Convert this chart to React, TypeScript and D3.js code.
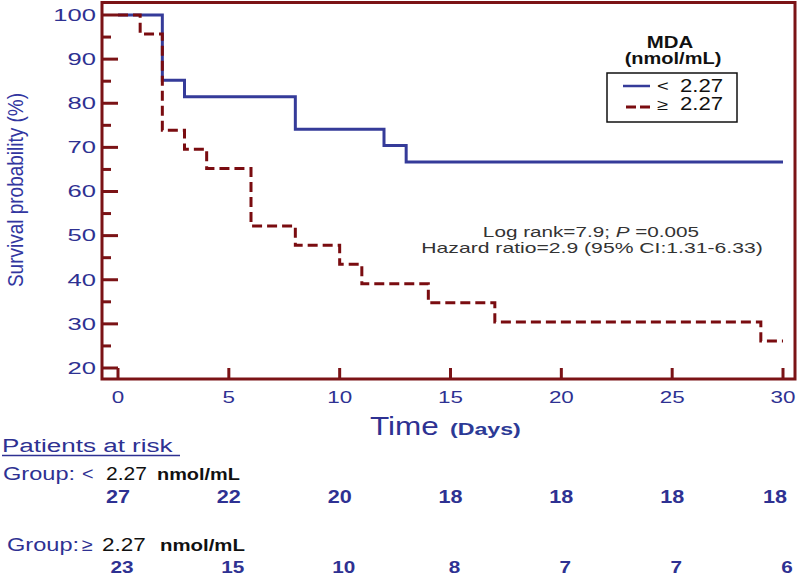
import React from "react";
import * as d3 from "d3";

// ---- data ----
const lowTimes = [0, 2, 3, 8, 12, 13, 30];
const lowSurv = [100, 85.2, 81.5, 74.1, 70.4, 66.7, 66.7];
const highTimes = [0, 1, 2, 3, 4, 6, 8, 10, 11, 14, 17, 29, 30];
const highSurv = [100, 95.7, 73.9, 69.6, 65.2, 52.2, 47.8, 43.5, 39.1, 34.8, 30.4, 26.1, 26.1];
const xTicks = [0, 5, 10, 15, 20, 25, 30];
const yMajor = [20, 30, 40, 50, 60, 70, 80, 90, 100];
const yMinor = [25, 35, 45, 55, 65, 75, 85, 95];
const riskTimes = [0, 5, 10, 15, 20, 25, 30];
const riskLow = [27, 22, 20, 18, 18, 18, 18];
const riskHigh = [23, 15, 10, 8, 7, 7, 6];
const legendLabels = ["2.27", "2.27"];

const FONT = "'Liberation Sans', Arial, sans-serif";
const BLUE = "#2e3192";
const CURVE_BLUE = "#353b99";
const RED = "#7a0c10";
const AXIS = "#7b1316";

function ST(props: any) {
  const { x, y, sx = 1, size, anchor = "start", fill = "#111", weight = "normal", children } = props;
  return (
    <text
      transform={`translate(${x},${y}) scale(${sx},1)`}
      fontSize={size}
      textAnchor={anchor}
      fill={fill}
      fontWeight={weight}
      fontFamily={FONT}
    >
      {children}
    </text>
  );
}

export default function App() {
  const x = d3.scaleLinear().domain([0, 30]).range([118, 783]);
  const y = d3.scaleLinear().domain([20, 100]).range([368, 15]);
  const line = d3
    .line<[number, number]>()
    .x((d) => x(d[0]))
    .y((d) => y(d[1]))
    .curve(d3.curveStepAfter);
  const lowPts: [number, number][] = lowTimes.map((t, i) => [t, lowSurv[i]]);
  const highPts: [number, number][] = highTimes.map((t, i) => [t, highSurv[i]]);

  const left = 102, right = 795, top = 2.5, bottom = 379;

  return (
    <svg width={800} height={576} style={{ position: "absolute", left: 0, top: 0, background: "#fff" }}>
      <rect x={0} y={0} width={800} height={576} fill="#fff" />
      {/* y ticks */}
      {yMajor.map((v) => (
        <line key={"ym" + v} x1={left} x2={left + 16} y1={y(v)} y2={y(v)} stroke={AXIS} strokeWidth={3} />
      ))}
      {yMinor.map((v) => (
        <line key={"yn" + v} x1={left} x2={left + 9} y1={y(v)} y2={y(v)} stroke={AXIS} strokeWidth={3} />
      ))}
      {xTicks.map((t) => (
        <line key={"xt" + t} x1={x(t)} x2={x(t)} y1={bottom} y2={t === 0 ? y(20) : bottom - 11} stroke={AXIS} strokeWidth={3} />
      ))}
      {/* frame */}
      <rect x={left} y={top} width={right - left} height={bottom - top} fill="none" stroke={AXIS} strokeWidth={3} />

      {/* curves */}
      <path d={line(lowPts) || ""} fill="none" stroke={CURVE_BLUE} strokeWidth={3} />
      <path d={line(highPts) || ""} fill="none" stroke={RED} strokeWidth={3} strokeDasharray="10,5" />

      {/* y tick labels */}
      {yMajor.map((v) => (
        <ST key={"yl" + v} x={96} y={y(v) + 5.8} sx={1.55} size={16.5} anchor="end" fill={BLUE}>
          {v}
        </ST>
      ))}
      {/* x tick labels */}
      {xTicks.map((t) => (
        <ST key={"xl" + t} x={x(t)} y={403} sx={1.4} size={16} anchor="middle" fill={BLUE}>
          {t}
        </ST>
      ))}

      {/* y axis title */}
      <text
        transform={`translate(23,190) scale(1.12,1) rotate(-90)`}
        fontSize={19}
        textAnchor="middle"
        fill="#3236a0"
        fontFamily={FONT}
      >
        Survival probability (%)
      </text>

      {/* x axis title */}
      <ST x={370} y={435} sx={1.26} size={25} fill={BLUE}>Time</ST>
      <ST x={450} y={435} sx={1.45} size={16} weight="bold" fill="#2c3a96">(Days)</ST>

      {/* legend */}
      <ST x={670} y={48} sx={1.2} size={17} anchor="middle" weight="bold">MDA</ST>
      <ST x={673} y={64} sx={1.25} size={16} anchor="middle" weight="bold">(nmol/mL)</ST>
      <rect x={607} y={73} width={130} height={49} fill="#fff" stroke="#111" strokeWidth={1.5} />
      <line x1={623} x2={650} y1={86} y2={86} stroke={CURVE_BLUE} strokeWidth={2.5} />
      <line x1={626} x2={650} y1={107} y2={107} stroke={RED} strokeWidth={3} strokeDasharray="10,4" />
      <ST x={657} y={91} sx={1.3} size={15.5}>&lt;</ST>
      <ST x={680} y={92} sx={1.23} size={18}>{legendLabels[0]}</ST>
      <ST x={657} y={110} sx={1.3} size={15.5}>≥</ST>
      <ST x={680} y={110} sx={1.23} size={18}>{legendLabels[1]}</ST>

      {/* stats annotation */}
      <ST x={591} y={237} sx={1.38} size={15} anchor="middle" fill="#333">
        Log rank=7.9; <tspan fontStyle="italic">P</tspan> =0.005
      </ST>
      <ST x={592} y={253} sx={1.41} size={15} anchor="middle" fill="#333">
        Hazard ratio=2.9 (95% CI:1.31-6.33)
      </ST>

      {/* patients at risk */}
      <ST x={2} y={452} sx={1.37} size={19} fill={BLUE}>Patients at risk</ST>
      <line x1={2} x2={180} y1={455.5} y2={455.5} stroke={BLUE} strokeWidth={1.5} />

      <ST x={3} y={480} sx={1.31} size={18} fill={BLUE}>Group:</ST>
      <ST x={82} y={480} sx={1.1} size={18} fill={BLUE}>&lt;</ST>
      <ST x={106} y={480} sx={1.17} size={18}>2.27</ST>
      <ST x={157} y={480} sx={1.17} size={17} weight="bold">nmol/mL</ST>
      {riskTimes.map((t, i) => (
        <ST key={"rl" + t} x={x(t) + (i === riskTimes.length - 1 ? -8 : 0)} y={503} sx={1.2} size={18} anchor="middle" fill={BLUE} weight="bold">
          {riskLow[i]}
        </ST>
      ))}

      <ST x={7} y={551} sx={1.31} size={18} fill={BLUE}>Group:</ST>
      <ST x={82} y={551} sx={1.1} size={18} fill={BLUE}>≥</ST>
      <ST x={102} y={551} sx={1.25} size={18}>2.27</ST>
      <ST x={160} y={551} sx={1.2} size={17} weight="bold">nmol/mL</ST>
      {riskTimes.map((t, i) => (
        <ST key={"rh" + t} x={x(t) + 4} y={573} sx={1.22} size={17} anchor="middle" fill={BLUE} weight="bold">
          {riskHigh[i]}
        </ST>
      ))}
    </svg>
  );
}
